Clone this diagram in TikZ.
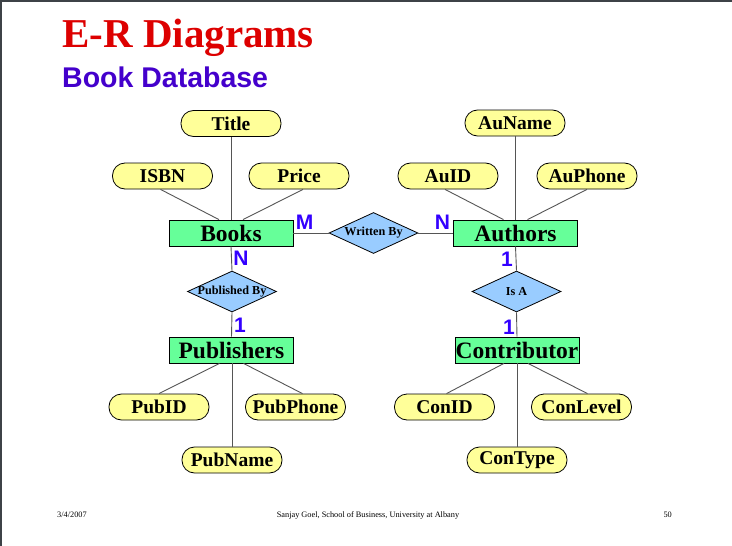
\documentclass[tikz,border=0pt]{standalone}
\usepackage{fontspec}
\setmainfont{Liberation Serif}
\newfontfamily\arialfont{Liberation Sans}
\usetikzlibrary{shapes.geometric,calc}
\definecolor{entgreen}{HTML}{66FF99}
\definecolor{attyellow}{HTML}{FFFF99}
\definecolor{relblue}{HTML}{99CCFF}
\definecolor{titlered}{HTML}{DD0000}
\definecolor{subblue}{HTML}{4400CC}
\definecolor{cardblue}{HTML}{3300FF}
\definecolor{linegray}{HTML}{555555}
\definecolor{framegray}{HTML}{3D4247}
\tikzset{
  entity/.style={draw=black, line width=0.8pt, fill=entgreen, minimum width=124pt, minimum height=26pt, inner sep=0pt,
    font=\fontsize{23.5}{23.5}\selectfont\bfseries},
  attr/.style={draw=black, line width=0.8pt, fill=attyellow, rounded corners=12.5pt, minimum width=100pt, minimum height=26pt, inner sep=0pt,
    font=\fontsize{19.5}{19.5}\selectfont\bfseries},
  rel/.style={draw=black, line width=0.8pt, fill=relblue, diamond, aspect=2.17, minimum width=89pt, minimum height=41pt, inner sep=0pt,
    font=\fontsize{12.2}{12.2}\selectfont\bfseries},
  card/.style={text=cardblue, font=\arialfont\fontsize{21}{21}\selectfont\bfseries, inner sep=0pt},
  link/.style={draw=linegray, line width=0.9pt},
  foot/.style={font=\fontsize{8.3}{8.3}\selectfont, inner sep=0pt}
}
\begin{document}
\begin{tikzpicture}[x=1pt,y=-1pt]
\useasboundingbox (0,0) rectangle (732,546);
\fill[white] (0,0) rectangle (732,546);
\fill[framegray] (0,0) rectangle (732,2.2);
\fill[framegray] (0,0) rectangle (1.6,546);

\node[anchor=base west, inner sep=0pt, text=titlered, font=\fontsize{41}{41}\selectfont\bfseries] (title) at (62,47) {E-R Diagrams};
\node[anchor=base west, inner sep=0pt, text=subblue, font=\arialfont\fontsize{28.5}{28.5}\selectfont\bfseries] (subtitle) at (62,87) {Book Database};

% entities
\node[entity] (books) at (231,233) {Books};
\node[entity] (authors) at (515.5,233) {Authors};
\node[entity] (publishers) at (231.5,350) {Publishers};
\node[entity] (contrib) at (517,350) {Contributor};

% relationships
\node[rel] (written) at (373.5,233) {\makebox[0pt]{Written By}};
\node[rel] (pubby) at (232,291.5) {\makebox[0pt]{Published By}};
\node[rel] (isa) at (516.5,291.5) {\makebox[0pt]{Is A}};

% attributes
\node[attr] (titleA) at (231,123.5) {Title};
\node[attr] (isbn) at (162.5,176) {ISBN};
\node[attr] (price) at (299,176) {Price};
\node[attr] (auname) at (515,123) {AuName};
\node[attr] (auid) at (448,176) {AuID};
\node[attr] (auphone) at (587,176) {AuPhone};
\node[attr] (pubid) at (159,407) {PubID};
\node[attr] (pubphone) at (295.5,407) {PubPhone};
\node[attr] (pubname) at (232,460) {PubName};
\node[attr] (conid) at (444.5,407) {ConID};
\node[attr] (conlevel) at (581.5,407) {ConLevel};
\node[attr] (contype) at (517,460) {ConType};

% attribute links
\draw[link] (titleA.south) -- (titleA.south |- books.north);
\draw[link] ($(isbn.south)+(-2,0)$) -- ($(books.north)+(-12,0)$);
\draw[link] ($(price.south)+(4,0)$) -- ($(books.north)+(12,0)$);
\draw[link] (auname.south) -- (auname.south |- authors.north);
\draw[link] ($(auid.south)+(-3,0)$) -- ($(authors.north)+(-12,0)$);
\draw[link] (auphone.south) -- ($(authors.north)+(12,0)$);
\draw[link] (pubname.north) -- (pubname.north |- publishers.south);
\draw[link] (pubid.north) -- ($(publishers.south)+(-12,0)$);
\draw[link] ($(pubphone.north)+(7,0)$) -- ($(publishers.south)+(12,0)$);
\draw[link] (contype.north) -- (contype.north |- contrib.south);
\draw[link] ($(conid.north)+(2,0)$) -- ($(contrib.south)+(-13,0)$);
\draw[link] ($(conlevel.north)+(6,0)$) -- ($(contrib.south)+(11,0)$);

% relationship links
\draw[link] (books.east) -- (written.west);
\draw[link] (written.east) -- (authors.west);
\draw[link] (books.south) -- (pubby.north);
\draw[link] (pubby.south) -- (publishers.north);
\draw[link] (authors.south) -- (isa.north);
\draw[link] (isa.south) -- (contrib.north);

% cardinalities
\node[card] (cM) at (304.5,222.5) {M};
\node[card] (cN1) at (442.5,222.5) {N};
\node[card] (cN2) at (241,258.5) {N};
\node[card] (c1a) at (240,325.5) {1};
\node[card] (c1b) at (507,259) {1};
\node[card] (c1c) at (509,327) {1};

% footer
\node[foot, anchor=base west] (fdate) at (57,517) {3/4/2007};
\node[foot, anchor=base] (fauthor) at (368,517) {Sanjay Goel, School of Business, University at Albany};
\node[foot, anchor=base east] (fpage) at (672,517) {50};
\end{tikzpicture}
\end{document}
